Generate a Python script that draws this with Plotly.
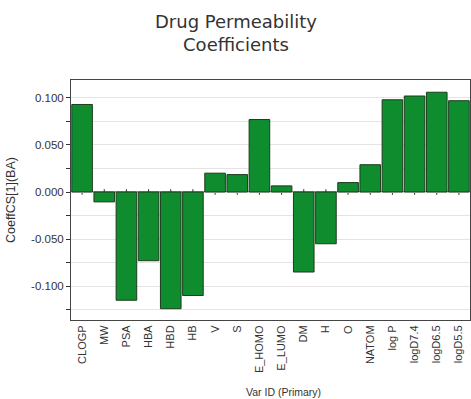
import plotly.graph_objects as go

# Regression coefficients per descriptor
var_ids = ["CLOGP", "MW", "PSA", "HBA", "HBD", "HB", "V", "S", "E_HOMO", "E_LUMO",
           "DM", "H", "O", "NATOM", "log P", "logD7.4", "logD6.5", "logD5.5"]
coeffs = [0.093, -0.0105, -0.115, -0.073, -0.124, -0.110, 0.020, 0.0185, 0.077, 0.0065,
          -0.085, -0.055, 0.010, 0.029, 0.098, 0.102, 0.106, 0.097]

y_ticks = [-0.100, -0.050, 0.000, 0.050, 0.100]
y_tick_text = ["-0.100", "-0.050", "0.000", "0.050", "0.100"]

W, H = 471, 399
L, R, T, B = 71, 1, 80, 79
plot_w, plot_h = W - L - R, H - T - B

fig = go.Figure()
fig.add_trace(go.Bar(
    x=var_ids, y=coeffs,
    marker=dict(color="#0e8c2e", line=dict(color="#1f3b1f", width=1)),
))

# small category ticks on the zero line, drawn beneath the bars
shapes = [dict(type="line", xref="x", yref="y", x0=v, x1=v, y0=-0.003, y1=0.003,
               line=dict(color="#333333", width=1), layer="below") for v in var_ids]
shapes.append(dict(type="line", xref="paper", yref="y", x0=0, x1=1, y0=0, y1=0,
                   line=dict(color="#333333", width=1), layer="below"))

# chart title and axis titles placed as annotations (pixel offsets -> paper units)
annotations = [
    dict(text="Drug Permeability<br>Coefficients", xref="paper", yref="paper",
         x=(W / 2 - L) / plot_w, y=1 + (T - 33) / plot_h,
         xanchor="center", yanchor="middle", showarrow=False,
         font=dict(family="DejaVu Sans", size=18, color="#333333")),
    dict(text="Var ID (Primary)", xref="paper", yref="paper",
         x=(283 - L) / plot_w, y=-(392 - (T + plot_h)) / plot_h,
         xanchor="center", yanchor="middle", showarrow=False,
         font=dict(family="Liberation Sans, Arial", size=10.5, color="#333333")),
    dict(text="CoeffCS[1](BA)", xref="paper", yref="paper",
         x=(11 - L) / plot_w, y=0.5, textangle=-90,
         xanchor="center", yanchor="middle", showarrow=False,
         font=dict(family="Liberation Sans, Arial", size=12.5, color="#333333")),
]

fig.update_layout(
    width=W, height=H,
    margin=dict(l=L, r=R, t=T, b=B),
    paper_bgcolor="white", plot_bgcolor="white",
    showlegend=False,
    bargap=0.07,
    shapes=shapes,
    annotations=annotations,
    font=dict(family="Liberation Sans, Arial", size=11, color="#333333"),
)
fig.update_xaxes(
    tickangle=-90, showgrid=False, ticks="", zeroline=False,
    showline=True, linecolor="#444444", linewidth=1, mirror=True,
    tickfont=dict(size=11, color="#333333"),
)
fig.update_yaxes(
    range=[-0.136, 0.119],
    tickvals=y_ticks, ticktext=y_tick_text,
    ticks="outside", ticklen=4, tickcolor="#333333",
    minor=dict(dtick=0.025, tick0=0, ticks="outside", ticklen=4, tickcolor="#333333",
               showgrid=True, gridcolor="#e4e4e4"),
    showgrid=True, gridcolor="#e4e4e4", zeroline=False,
    showline=True, linecolor="#444444", linewidth=1, mirror=True,
    tickfont=dict(size=11.5, color="#333333"),
)

fig.write_html("out.html")
